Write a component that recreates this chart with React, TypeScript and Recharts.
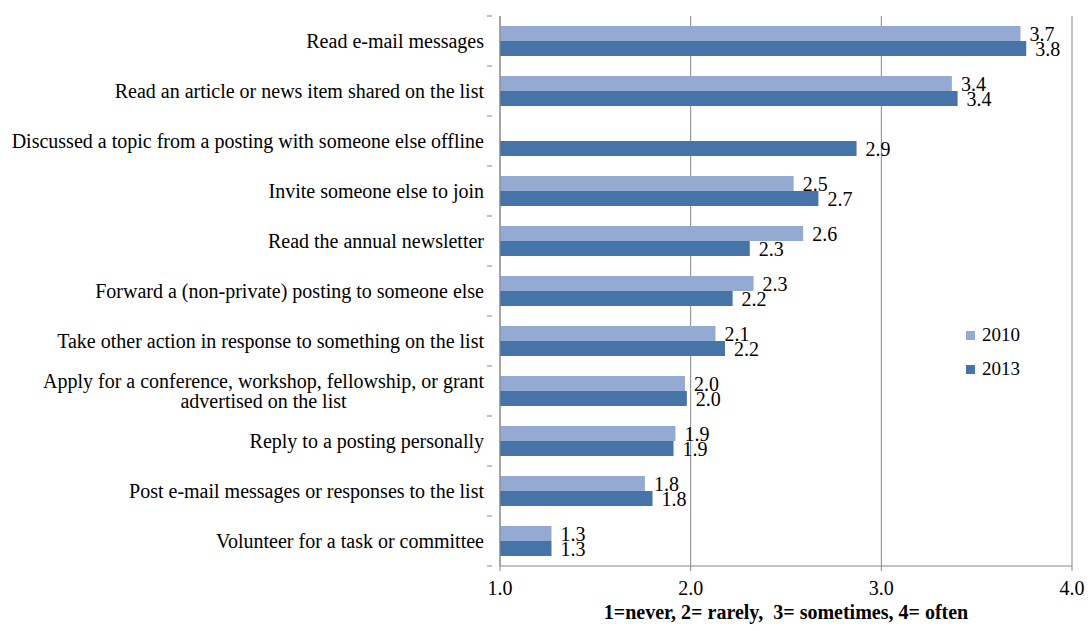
import React from 'react'
import { BarChart, Bar, XAxis, YAxis, CartesianGrid, Legend, LabelList } from 'recharts'

const activities = [
  'Read e-mail messages',
  'Read an article or news item shared on the list',
  'Discussed a topic from a posting with someone else offline',
  'Invite someone else to join',
  'Read the annual newsletter',
  'Forward a (non-private) posting to someone else',
  'Take other action in response to something on the list',
  'Apply for a conference, workshop, fellowship, or grant\nadvertised on the list',
  'Reply to a posting personally',
  'Post e-mail messages or responses to the list',
  'Volunteer for a task or committee',
]

const values2010: (number | null)[] = [3.73, 3.37, null, 2.54, 2.59, 2.33, 2.13, 1.97, 1.92, 1.76, 1.27]
const values2013: number[] = [3.76, 3.4, 2.87, 2.67, 2.31, 2.22, 2.18, 1.98, 1.91, 1.8, 1.27]

const xTicks = [1, 2, 3, 4]

const FONT = "'Liberation Serif', 'Times New Roman', serif"
const LIGHT = '#95aad2'
const DARK = '#4674a8'
const AXIS = '#868686'

const data = activities.map((name, i) => ({
  name,
  y2010: values2010[i],
  y2013: values2013[i],
}))

let ctx: CanvasRenderingContext2D | null = null
function textWidth(s: string, font: string): number {
  if (!ctx) ctx = document.createElement('canvas').getContext('2d')
  if (!ctx) return s.length * 9
  ctx.font = font
  return ctx.measureText(s).width
}

function CategoryTick(props: any) {
  const { x, y, payload } = props
  const lines: string[] = String(payload.value).split('\n')
  const half = 25
  const right = x - 8
  const widest = Math.max(...lines.map((l) => textWidth(l, `20px ${FONT}`)))
  const isLast = payload.index === activities.length - 1
  return (
    <g>
      <line x1={x - 5} x2={x} y1={y - half} y2={y - half} stroke={AXIS} />
      {isLast && <line x1={x - 5} x2={x} y1={y + half} y2={y + half} stroke={AXIS} />}
      {lines.length === 1 ? (
        <text x={right} y={y} dy="0.35em" textAnchor="end" fontSize={20} fontFamily={FONT} fill="#000">
          {lines[0]}
        </text>
      ) : (
        lines.map((l, i) => (
          <text
            key={i}
            x={right - widest / 2}
            y={y + (i - (lines.length - 1) / 2) * 20}
            dy="0.35em"
            textAnchor="middle"
            fontSize={20}
            fontFamily={FONT}
            fill="#000"
          >
            {l}
          </text>
        ))
      )}
    </g>
  )
}

function LegendBox() {
  const items = [
    { label: '2010', color: LIGHT },
    { label: '2013', color: DARK },
  ]
  return (
    <div style={{ fontFamily: FONT, fontSize: 19, color: '#000' }}>
      {items.map((it) => (
        <div key={it.label} style={{ display: 'flex', alignItems: 'center', height: 34 }}>
          <span style={{ display: 'inline-block', width: 9, height: 9, background: it.color, marginRight: 7 }} />
          <span>{it.label}</span>
        </div>
      ))}
    </div>
  )
}

const fmt = (v: any) => (v == null ? '' : Number(v).toFixed(1))

function XTick(props: any) {
  const { x, y, payload } = props
  return (
    <text x={x} y={y} dy="0.71em" textAnchor="middle" fontSize={20} fontFamily={FONT} fill="#000">
      {Number(payload.value).toFixed(1)}
    </text>
  )
}

function BarValue(props: any) {
  const { x, y, width, height, value } = props
  if (value == null) return null
  return (
    <text x={x + width + 9} y={y + height / 2} dy="0.35em" textAnchor="start" fontSize={20} fontFamily={FONT} fill="#000">
      {fmt(value)}
    </text>
  )
}

export default function App() {
  return (
    <div style={{ position: 'absolute', left: 0, top: 0, background: '#fff', fontFamily: FONT }}>
      <BarChart
        width={1091}
        height={631}
        data={data}
        layout="vertical"
        margin={{ top: 16, right: 19, bottom: 0, left: 0 }}
        barSize={15}
        barGap={0}
      >
        <CartesianGrid horizontal={false} vertical stroke={AXIS} />
        <XAxis
          type="number"
          domain={[1, 4]}
          ticks={xTicks}
          allowDataOverflow
          height={65}
          stroke={AXIS}
          tickSize={5}
          tickMargin={10}
          tick={<XTick />}
          label={{
            content: ({ viewBox }: any) => (
              <text
                x={viewBox.x + viewBox.width / 2}
                y={viewBox.y + 53}
                textAnchor="middle"
                fontSize={20}
                fontWeight="bold"
                fontFamily={FONT}
                fill="#000"
                style={{ whiteSpace: 'pre' }}
              >
                {'1=never, 2= rarely,  3= sometimes, 4= often'}
              </text>
            ),
          }}
        />
        <YAxis
          type="category"
          dataKey="name"
          width={500}
          stroke={AXIS}
          tickLine={false}
          interval={0}
          tick={<CategoryTick />}
        />
        <Legend
          layout="vertical"
          align="center"
          verticalAlign="middle"
          content={<LegendBox />}
          wrapperStyle={{ left: 966, top: 318, width: 80 }}
        />
        <Bar dataKey="y2010" name="2010" fill={LIGHT} isAnimationActive={false}>
          <LabelList dataKey="y2010" content={<BarValue />} />
        </Bar>
        <Bar dataKey="y2013" name="2013" fill={DARK} isAnimationActive={false}>
          <LabelList dataKey="y2013" content={<BarValue />} />
        </Bar>
      </BarChart>
    </div>
  )
}
